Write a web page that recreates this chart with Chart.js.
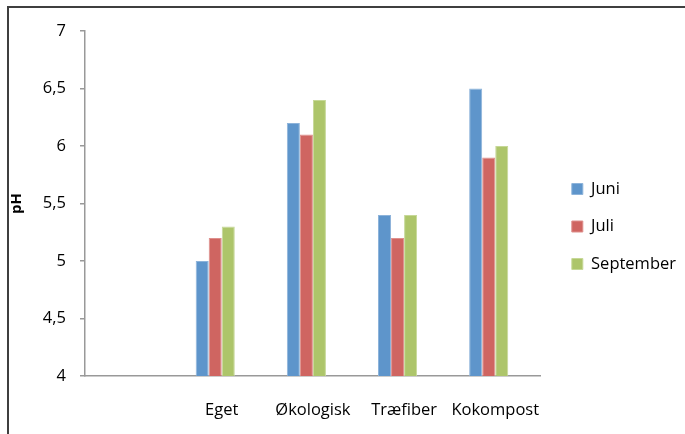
<!DOCTYPE html>
<html>
<head>
<meta charset="utf-8">
<script src="https://cdn.jsdelivr.net/npm/chart.js@4"></script>
<style>
  html, body { margin: 0; padding: 0; background: #fff; }
  #wrap { width: 685px; height: 434px; }
</style>
</head>
<body>
<div id="wrap"><canvas id="c" width="685" height="434"></canvas></div>
<script>
// Categories (first slot left blank on purpose)
const categories = ["", "Eget", "Økologisk", "Træfiber", "Kokompost"];
// pH per month
const juni      = [null, 5.0, 6.2, 5.4, 6.5];
const juli      = [null, 5.2, 6.1, 5.2, 5.9];
const september = [null, 5.3, 6.4, 5.4, 6.0];
// fourth, empty slot in each group
const reserve   = [null, null, null, null, null];
const yTicks    = [4, 4.5, 5, 5.5, 6, 6.5, 7];

const FONT = "'Open Sans', Lato, sans-serif";
const FS = 16.5;

// frame lines on the left and top edges
const framePlugin = {
  id: 'frame',
  afterDraw(chart) {
    const ctx = chart.ctx;
    ctx.save();
    ctx.strokeStyle = '#3f3f3f';
    ctx.lineWidth = 2;
    ctx.beginPath();
    ctx.moveTo(8, 434);
    ctx.lineTo(8, 7);
    ctx.lineTo(685, 7);
    ctx.stroke();
    ctx.restore();
  }
};

// nudge the legend block into place next to the plot
const legendNudge = {
  id: 'legendNudge',
  afterLayout(chart) {
    const lg = chart.legend;
    if (!lg) return;
    lg.left += 10; lg.right += 10;
    lg.top -= 6; lg.bottom -= 6;
  }
};

new Chart(document.getElementById('c'), {
  type: 'bar',
  data: {
    labels: categories,
    datasets: [
      { label: 'Juni', data: juni, backgroundColor: '#5E95CB', borderColor: '#8DB3DA', borderWidth: 1 },
      { label: 'Juli', data: juli, backgroundColor: '#CF6561', borderColor: '#DE8F8C', borderWidth: 1 },
      { label: 'September', data: september, backgroundColor: '#ADC56A', borderColor: '#C6D897', borderWidth: 1 },
      { label: '', data: reserve, backgroundColor: 'rgba(0,0,0,0)' }
    ]
  },
  options: {
    responsive: false,
    animation: false,
    layout: { padding: { left: 8, top: 31, right: 9, bottom: 0 } },
    datasets: { bar: { categoryPercentage: 0.572, barPercentage: 1.0 } },
    plugins: {
      tooltip: { enabled: false },
      legend: {
        position: 'right',
        labels: {
          filter: (item) => item.text !== '',
          font: { family: FONT, size: FS },
          color: '#000',
          boxWidth: 11,
          boxHeight: 11,
          padding: 21
        }
      }
    },
    scales: {
      x: {
        afterFit: (axis) => { axis.height = 58; },
        grid: { display: false },
        border: { display: true, color: '#999999', width: 1.5 },
        ticks: { font: { family: FONT, size: FS }, color: '#000', padding: 16, maxRotation: 0, minRotation: 0, autoSkip: false }
      },
      y: {
        min: 4, max: 7,
        afterBuildTicks: (axis) => { axis.ticks = yTicks.map(v => ({ value: v })); },
        afterFit: (axis) => { axis.width = 77; },
        grid: { drawOnChartArea: false, tickLength: 5, color: '#999999', lineWidth: 1.5 },
        border: { display: true, color: '#999999', width: 1.5 },
        ticks: {
          font: { family: FONT, size: FS }, color: '#000', padding: 14,
          callback: (v) => String(v).replace('.', ',')
        },
        title: { display: true, text: 'pH', font: { family: FONT, size: 15, weight: 'bold' }, color: '#000', padding: 0 }
      }
    }
  },
  plugins: [framePlugin, legendNudge]
});
</script>
</body>
</html>
